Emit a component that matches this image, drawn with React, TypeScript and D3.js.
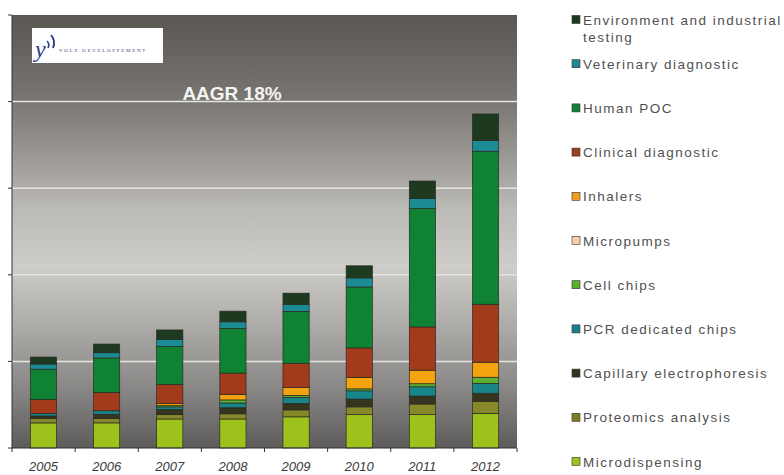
import React from 'react';
import * as d3 from 'd3';

const years = ['2005', '2006', '2007', '2008', '2009', '2010', '2011', '2012'];
// stacking order, bottom to top
const seriesNames = [
  'Microdispensing',
  'Proteomics analysis',
  'Capillary electrophoresis',
  'PCR dedicated chips',
  'Cell chips',
  'Micropumps',
  'Inhalers',
  'Clinical diagnostic',
  'Human POC',
  'Veterinary diagnostic',
  'Environment and industrial testing',
];
const microdispensing = [29, 29, 33.5, 33.5, 36, 38.5, 38.5, 40];
const proteomics = [5, 5, 5, 6, 8, 9, 12.3, 14];
const capillary = [3, 5, 6, 7, 7.5, 9, 9.2, 9.2];
const pcr = [3, 4, 3, 5.5, 7, 9.5, 10.7, 11.5];
const cellChips = [0, 0, 1.5, 3.5, 2.3, 2.3, 3.5, 7];
const micropumps = [0, 0, 0, 0, 0, 0, 0, 0];
const inhalers = [0, 0, 2.3, 6.5, 9, 13.3, 15.6, 17.3];
const clinical = [16, 21, 22, 24.5, 28, 34, 50, 67];
const humanPoc = [35, 40, 44, 51.5, 60, 70.4, 136.7, 176.7];
const veterinary = [6, 6, 8, 7.7, 8, 10.4, 11.5, 12.3];
const environment = [8, 10, 11, 12.3, 13, 14, 20.3, 30.7];
const yTicks = [0, 100, 200, 300, 400, 500];

const seriesValues = [
  microdispensing, proteomics, capillary, pcr, cellChips, micropumps,
  inhalers, clinical, humanPoc, veterinary, environment,
];
const barColors = [
  '#9cc21b', '#868829', '#35341f', '#17858a', '#5cb032', '#f8cfa6',
  '#f3a210', '#a23a1b', '#0f8234', '#1b8c94', '#1d3a21',
];
const legendColors = [
  '#9cc21b', '#7f7d2a', '#33331f', '#17808a', '#5ab030', '#f8d0a8',
  '#f0a020', '#a23c1e', '#13803a', '#1e8a90', '#1b3a20',
];

export default function App() {
  const left = 12, right = 517, top = 15, bottom = 448;
  const x = d3.scaleBand().domain(years).range([left, right]).paddingInner(0.585).paddingOuter(0.29);
  const y = d3.scaleLinear().domain([0, 500]).range([bottom, top]);
  const table = years.map((yr, i) => {
    const row: any = { year: yr };
    seriesNames.forEach((s, j) => (row[s] = seriesValues[j][i]));
    return row;
  });
  const stacked = d3.stack().keys(seriesNames)(table as any);
  const band = d3.scaleBand().domain(years).range([left, right]);

  const legendOrder = [...seriesNames].reverse();
  const legendY = (k: number) => (k === 0 ? 19.5 : 19.5 + k * 44.2);

  return (
    <svg width={784} height={475} style={{ position: 'absolute', left: 0, top: 0, background: '#fff' }}>
      <defs>
        <linearGradient id="bg" x1="0" y1="0" x2="0" y2="1">
          <stop offset="0" stopColor="#5a5753" />
          <stop offset="0.2" stopColor="#7a7773" />
          <stop offset="0.45" stopColor="#bcbab6" />
          <stop offset="0.58" stopColor="#cfcdca" />
          <stop offset="0.68" stopColor="#b6b4b1" />
          <stop offset="0.86" stopColor="#8a8886" />
          <stop offset="1" stopColor="#5e5c5a" />
        </linearGradient>
      </defs>
      <rect x={left} y={top} width={right - left} height={bottom - top} fill="url(#bg)" />
      {yTicks.slice(1, -1).map((t) => (
        <line key={t} x1={left} x2={right} y1={y(t)} y2={y(t)} stroke="#e6e5e2" strokeWidth={1.5} />
      ))}
      {/* logo */}
      <rect x={32} y={28} width={131} height={35} fill="#fff" />
      <text x={35} y={57} fontFamily="Liberation Serif" fontStyle="italic" fontSize={24} fill="#2b3a8c">y</text>
      <path d="M47 41 q3 3 1 7" stroke="#2b3a8c" strokeWidth={1.6} fill="none" />
      <path d="M51 35 q5 6 2 13" stroke="#2b3a8c" strokeWidth={1.8} fill="none" />
      <text x={59} y={52} fontFamily="Liberation Serif" fontSize={5} letterSpacing={1.7} fill="#3a4a8a">YOLE DEVELOPPEMENT</text>
      <text x={232} y={100} textAnchor="middle" fontFamily="Liberation Sans" fontWeight="bold" fontSize={19} fill="#f4f4f2">AAGR 18%</text>
      {stacked.map((layer, j) =>
        layer.map((d, i) => {
          const h = y(d[0]) - y(d[1]);
          if (h <= 0) return null;
          return (
            <rect key={`${j}-${i}`} x={x(years[i])} y={y(d[1])} width={x.bandwidth()} height={h}
              fill={barColors[j]} stroke="#2a2a22" strokeWidth={0.7} />
          );
        })
      )}
      {/* axes */}
      <line x1={left} x2={left} y1={top} y2={bottom} stroke="#333" strokeWidth={1} />
      {yTicks.map((t) => (
        <line key={t} x1={left - 4} x2={left} y1={y(t)} y2={y(t)} stroke="#333" />
      ))}
      <line x1={left} x2={right} y1={bottom} y2={bottom} stroke="#333" strokeWidth={1} />
      {[...years.map((yr) => band(yr) as number), right].map((v, i) => (
        <line key={i} x1={v} x2={v} y1={bottom} y2={bottom + 4} stroke="#333" />
      ))}
      {years.map((yr) => (
        <text key={yr} x={(band(yr) as number) + band.bandwidth() / 2} y={471} textAnchor="middle"
          fontFamily="Liberation Sans" fontStyle="italic" fontSize={13} fill="#3a3a3a">{yr}</text>
      ))}
      {/* legend */}
      {legendOrder.map((name, k) => {
        const cy = legendY(k);
        const col = legendColors[seriesNames.indexOf(name)];
        const lines = k === 0 ? ['Environment and industrial', 'testing'] : [name];
        return (
          <g key={name}>
            <rect x={572} y={cy - 4} width={8} height={8} fill={col} stroke="#333" strokeWidth={0.6} />
            {lines.map((ln, li) => (
              <text key={li} x={583} y={cy + 5 + li * 17.5} fontFamily="Liberation Sans" fontSize={13.5}
                letterSpacing={1.5} fill="#505050">{ln}</text>
            ))}
          </g>
        );
      })}
    </svg>
  );
}
